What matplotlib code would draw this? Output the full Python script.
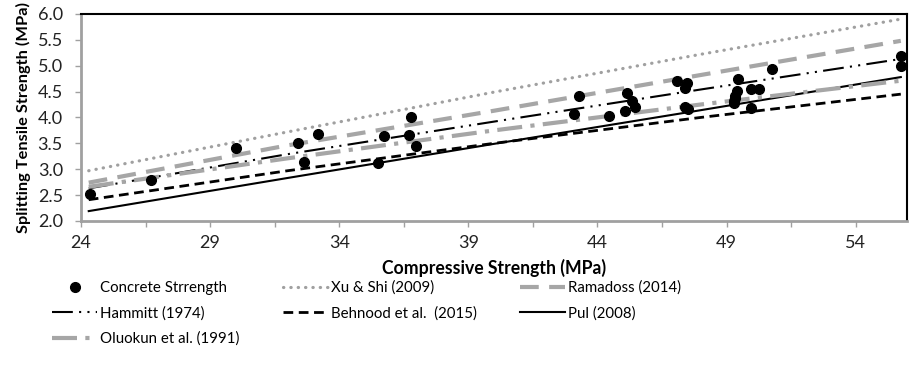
import matplotlib
matplotlib.use("Agg")
import matplotlib.pyplot as plt
from matplotlib.ticker import FormatStrFormatter

plt.rcParams['font.family'] = ['Lato', 'DejaVu Sans']

# measured concrete strength (compressive, splitting tensile)
fc = [24.36, 26.71, 30.01, 32.40, 32.64, 33.17, 35.50, 35.72, 36.79, 36.71,
      36.96, 43.30, 43.09, 44.43, 45.05, 45.16, 45.34, 45.45, 47.09, 47.48,
      47.41, 47.41, 47.50, 49.44, 49.39, 49.31, 49.28, 49.30, 49.33, 49.95,
      50.25, 49.95, 50.77, 55.74, 55.74]
ft = [2.52, 2.79, 3.41, 3.50, 3.14, 3.68, 3.11, 3.64, 4.00, 3.66,
      3.45, 4.42, 4.07, 4.03, 4.13, 4.47, 4.31, 4.21, 4.71, 4.67,
      4.56, 4.21, 4.17, 4.74, 4.51, 4.37, 4.27, 4.32, 4.42, 4.54,
      4.54, 4.18, 4.93, 5.19, 5.00]

# model curves read at a few compressive strengths
fc_model = [24.3, 32.0, 40.0, 48.0, 55.75]
xu_shi = [2.97, 3.72, 4.49, 5.22, 5.90]
ramadoss = [2.74, 3.46, 4.13, 4.82, 5.48]
hammitt = [2.63, 3.29, 3.92, 4.54, 5.13]
behnood = [2.41, 2.97, 3.50, 4.00, 4.45]
pul = [2.19, 2.83, 3.49, 4.14, 4.78]
oluokun = [2.66, 3.21, 3.75, 4.25, 4.71]

x_major = [24, 29, 34, 39, 44, 49, 54]
x_minor = [26.5, 31.5, 36.5, 41.5, 46.5, 51.5]
y_ticks = [2.0, 2.5, 3.0, 3.5, 4.0, 4.5, 5.0, 5.5, 6.0]

fig = plt.figure(figsize=(9.1, 3.67), dpi=100)
ax = fig.add_axes([0.089, 0.398, 0.908, 0.564])

gray = '#a6a6a6'
l_xu, = ax.plot(fc_model, xu_shi, color='#a0a0a0', lw=2.3, dashes=(0.1, 2.2),
                dash_capstyle='round', label='Xu & Shi (2009)')
l_ra, = ax.plot(fc_model, ramadoss, color=gray, lw=3, dashes=(4.5, 2.5),
                label='Ramadoss (2014)')
l_ha, = ax.plot(fc_model, hammitt, color='black', lw=1.5,
                dashes=(10, 3, 1, 3, 1, 3), label='Hammitt (1974)')
l_be, = ax.plot(fc_model, behnood, color='black', lw=2, dashes=(3.5, 2),
                label='Behnood et al.  (2015)')
l_pu, = ax.plot(fc_model, pul, color='black', lw=1.5, label='Pul (2008)')
l_ol, = ax.plot(fc_model, oluokun, color=gray, lw=3, dashes=(6, 2, 1, 2),
                label='Oluokun et al. (1991)')
l_pt, = ax.plot(fc, ft, 'o', color='black', ms=7, zorder=5,
                label='Concrete Strrength')

ax.set_xlim(24, 56)
ax.set_ylim(2.0, 6.0)
ax.set_xticks(x_major)
ax.set_xticks(x_minor, minor=True)
ax.set_yticks(y_ticks)
ax.yaxis.set_major_formatter(FormatStrFormatter('%.1f'))

for s in ['left', 'bottom']:
    ax.spines[s].set_color('#a0a0a0')
    ax.spines[s].set_linewidth(2)
for s in ['top', 'right']:
    ax.spines[s].set_color('black')
    ax.spines[s].set_linewidth(1.5)
ax.tick_params(which='both', direction='out', length=4, width=1,
               color='#a0a0a0', labelsize=13, labelcolor='#222222')
ax.tick_params(axis='x', pad=6)
ax.tick_params(axis='y', pad=9)

ax.set_xlabel('Compressive Strength (MPa)', fontsize=12.7, fontweight='bold',
              labelpad=6)
ax.set_ylabel('Splitting Tensile Strength (MPa)', fontsize=11.8,
              fontweight='bold', labelpad=5)

handles = [l_pt, l_ha, l_ol, l_xu, l_be, l_ra, l_pu]
fig.legend(handles, [h.get_label() for h in handles], ncol=3,
           loc='upper left', bbox_to_anchor=(0.049, 0.256), frameon=False,
           fontsize=10.8, handlelength=3.0, handletextpad=0.2,
           columnspacing=2.9, labelspacing=0.75, borderpad=0)

fig.savefig('out.png', dpi=100)
